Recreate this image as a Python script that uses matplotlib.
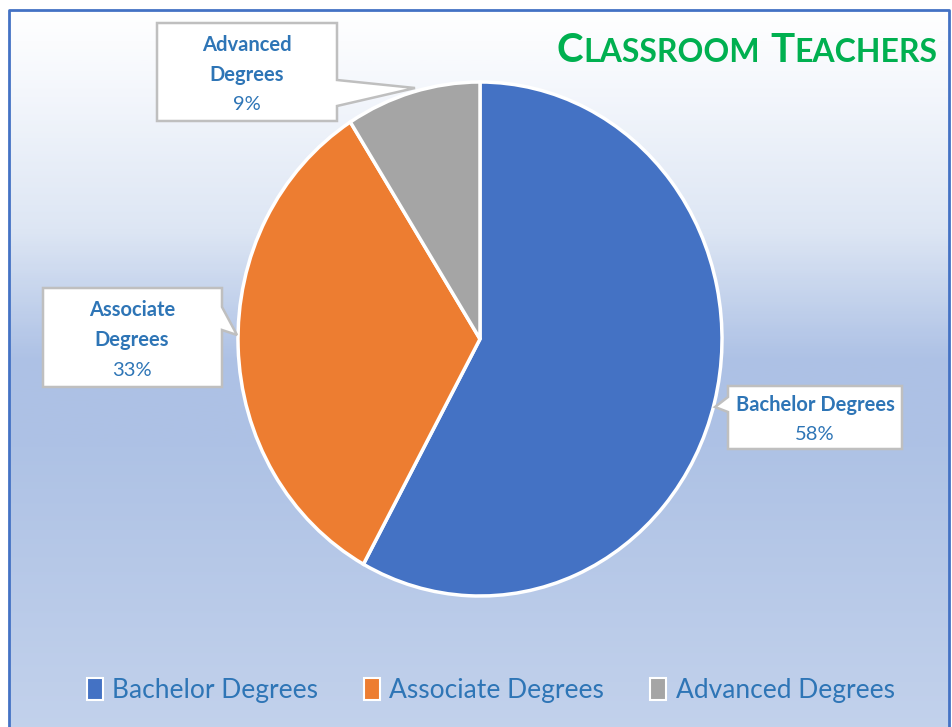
import matplotlib
matplotlib.use('Agg')
import matplotlib.pyplot as plt
import numpy as np
from matplotlib.colors import LinearSegmentedColormap
from matplotlib.patches import Polygon, Patch

#=======================================================
labels = ['Bachelor Degrees', 'Associate Degrees', 'Advanced Degrees']
box_labels = ['Bachelor Degrees', 'Associate\nDegrees', 'Advanced\nDegrees']
shares = [58, 33, 9]
colors = ['#4472C4', '#ED7D31', '#A5A5A5']
title_parts = [('C', 'big'), ('LASSROOM', 'small'), ('T', 'big'), ('EACHERS', 'small')]
#=======================================================
W, H = 953, 727
plt.rcParams['font.family'] = ['Lato', 'DejaVu Sans']
txt_blue = '#2E75B6'

fig = plt.figure(figsize=(W/100, H/100), dpi=100)
fig.patch.set_facecolor('white')

# background gradient inside the blue frame
bg = fig.add_axes([0, 0, 1, 1])
bg.set_xlim(0, W)
bg.set_ylim(H, 0)
bg.axis('off')
grad = LinearSegmentedColormap.from_list('g', [
    (0.0, '#ffffff'), (0.08, '#f7f9fd'), (0.3, '#dde6f4'),
    (0.48, '#adc1e5'), (0.6, '#aec2e5'), (1.0, '#c3d2ec')])
bg.imshow(np.linspace(0, 1, 300).reshape(-1, 1), cmap=grad, aspect='auto',
          extent=[9, 949, 740, 10], zorder=0)
bg.plot([9, 9, 949, 949], [740, 10, 10, 740], color='#4472C4', lw=2, zorder=1)

# pie (slightly taller than wide as in the picture)
cx, cy, rx, ry = 480, 339, 242, 257
pax = fig.add_axes([(cx - rx)/W, (H - cy - ry)/H, 2*rx/W, 2*ry/H])
wedges, _ = pax.pie(shares, colors=colors, startangle=90, counterclock=False,
                    wedgeprops=dict(edgecolor='white', linewidth=2.5))
for w in wedges:
    w.set_clip_on(False)
pax.set_xlim(-1, 1)
pax.set_ylim(-1, 1)
pax.set_aspect('auto')
pax.axis('off')

# overlay for callouts, title, legend
ov = fig.add_axes([0, 0, 1, 1])
ov.set_xlim(0, W)
ov.set_ylim(H, 0)
ov.axis('off')
ov.patch.set_alpha(0)

callouts = [
    # bachelor
    dict(poly=[(728, 386), (902, 386), (902, 449), (728, 449), (728, 412), (715, 407), (728, 397)],
         cx=815, y0=405, dy=29),
    # associate
    dict(poly=[(43, 288), (222, 288), (222, 307), (237, 335), (222, 330), (222, 387), (43, 387)],
         cx=132, y0=310, dy=30),
    # advanced
    dict(poly=[(157, 23), (337, 23), (337, 80), (415, 88), (337, 106), (337, 121), (157, 121)],
         cx=247, y0=45, dy=30),
]
for i, c in enumerate(callouts):
    ov.add_patch(Polygon(c['poly'], closed=True, facecolor='white', edgecolor='#BFBFBF',
                         lw=1.8, zorder=3))
    lines = box_labels[i].split('\n')
    for j, ln in enumerate(lines):
        ov.text(c['cx'], c['y0'] + j*c['dy'], ln, ha='center', va='center', fontsize=14.5,
                fontweight='bold', color=txt_blue, zorder=4)
    ov.text(c['cx'], c['y0'] + len(lines)*c['dy'], '%d%%' % shares[i], ha='center',
            va='center', fontsize=14.5, color=txt_blue, zorder=4)

# title in small caps
r = fig.canvas.get_renderer()
x = 557
sizes = {'big': 29, 'small': 23}
for k, (s, kind) in enumerate(title_parts):
    t = ov.text(x, 62, s, fontsize=sizes[kind], fontweight='bold', color='#00B050',
                ha='left', va='baseline', zorder=4)
    bb = t.get_window_extent(renderer=r)
    x += bb.width
    if k == 1:
        x += 10

# legend
handles = [Patch(facecolor=colors[i], edgecolor='white', lw=1.5, label=labels[i]) for i in range(3)]
leg = ov.legend(handles=handles, loc='center', bbox_to_anchor=(0.515, 0.05), ncol=3,
                frameon=False, fontsize=19, handlelength=0.6, handleheight=0.9,
                handletextpad=0.35, columnspacing=1.75)
for t in leg.get_texts():
    t.set_color(txt_blue)

fig.savefig('out.png', dpi=100)
